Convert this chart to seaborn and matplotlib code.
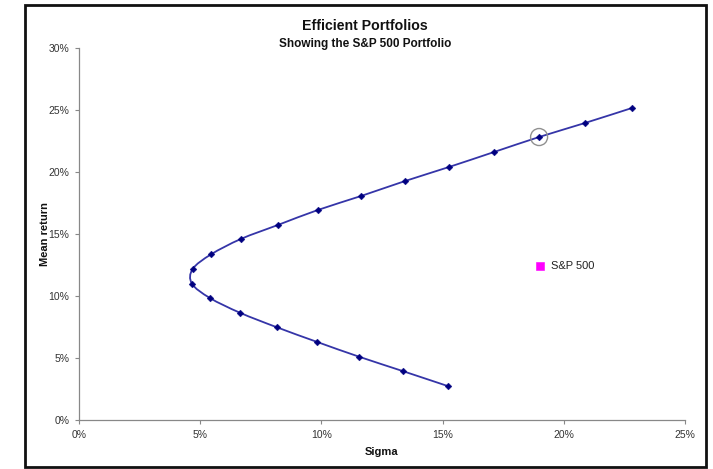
import matplotlib
matplotlib.use("Agg")
import matplotlib.pyplot as plt
from matplotlib.patches import Rectangle, PathPatch
from matplotlib.path import Path
from matplotlib.ticker import PercentFormatter
import seaborn as sns
import pandas as pd

# Efficient frontier: portfolio sigma and mean return (%), lower branch then upper branch
sigma = [15.21, 13.38, 11.56, 9.83, 8.16, 6.64, 5.40, 4.66,
         4.69, 5.45, 6.68, 8.21, 9.86, 11.63, 13.45, 15.26, 17.12, 18.98, 20.87, 22.81]
mean_return = [2.74, 3.93, 5.10, 6.29, 7.48, 8.65, 9.84, 10.99,
               12.18, 13.36, 14.60, 15.73, 16.94, 18.06, 19.27, 20.40, 21.61, 22.82, 23.95, 25.16]

# Market portfolio
sp500_sigma = [19.02]
sp500_return = [12.42]
sp500_label = "S&P 500"

# Frontier portfolio marked with a ring
highlight_index = 17

x_ticks = [0, 5, 10, 15, 20, 25]
y_ticks = [0, 5, 10, 15, 20, 25, 30]

sns.set_theme(style="white")
plt.rcParams["font.family"] = ["Liberation Sans", "DejaVu Sans"]

frontier = pd.DataFrame({"sigma": sigma, "ret": mean_return})

fig = plt.figure(figsize=(7.13, 4.69), dpi=100)
fig.patch.set_facecolor("white")
ax = fig.add_axes([79 / 713, 1 - 420 / 469, 606 / 713, 372 / 469])
ax.set_facecolor("white")


def smooth_path(xs, ys, tension=1 / 6):
    """Cubic Bezier path through the points (Catmull-Rom style smoothing)."""
    pts = list(zip(xs, ys))
    n = len(pts)
    verts = [pts[0]]
    codes = [Path.MOVETO]
    for i in range(n - 1):
        p0 = pts[i - 1] if i > 0 else pts[i]
        p1 = pts[i]
        p2 = pts[i + 1]
        p3 = pts[i + 2] if i + 2 < n else pts[i + 1]
        c1 = (p1[0] + (p2[0] - p0[0]) * tension, p1[1] + (p2[1] - p0[1]) * tension)
        c2 = (p2[0] - (p3[0] - p1[0]) * tension, p2[1] - (p3[1] - p1[1]) * tension)
        verts += [c1, c2, p2]
        codes += [Path.CURVE4, Path.CURVE4, Path.CURVE4]
    return Path(verts, codes)


ax.add_patch(PathPatch(smooth_path(sigma, mean_return), facecolor="none",
                       edgecolor="#3535a8", linewidth=1.3, zorder=2))
sns.scatterplot(data=frontier, x="sigma", y="ret", ax=ax, marker="D",
                s=12, color="#000080", edgecolor="#000080", zorder=3)

ax.scatter([sigma[highlight_index]], [mean_return[highlight_index]], s=150,
           facecolors="none", edgecolors="#909090", linewidths=1.0, zorder=4)

sns.scatterplot(x=sp500_sigma, y=sp500_return, ax=ax, marker="s", s=26,
                color="#ff00ff", edgecolor="#ff00ff", zorder=3)
ax.text(sp500_sigma[0] + 0.45, sp500_return[0], sp500_label, fontsize=8,
        color="#222222", va="center", ha="left")

ax.set_xlim(0, 25)
ax.set_ylim(0, 30)
ax.set_xticks(x_ticks)
ax.set_yticks(y_ticks)
ax.xaxis.set_major_formatter(PercentFormatter(decimals=0))
ax.yaxis.set_major_formatter(PercentFormatter(decimals=0))
ax.tick_params(axis="both", which="major", labelsize=7.5, labelcolor="#333333",
               direction="out", length=3, width=0.8, color="#888888",
               bottom=True, left=True, pad=4)

for side in ("top", "right"):
    ax.spines[side].set_visible(False)
for side in ("left", "bottom"):
    ax.spines[side].set_color("#888888")
    ax.spines[side].set_linewidth(0.9)

ax.set_xlabel("Sigma", fontsize=8, fontweight="bold", color="#111111", labelpad=5)
ax.set_ylabel("Mean return", fontsize=8, fontweight="bold", color="#111111", labelpad=-1)

fig.text(365 / 713, 1 - 26 / 469, "Efficient Portfolios", ha="center", va="center",
         fontsize=10.2, fontweight="bold", color="#111111")
fig.text(365 / 713, 1 - 44 / 469, "Showing the S&P 500 Portfolio", ha="center",
         va="center", fontsize=8.5, fontweight="bold", color="#111111")

# Chart frame
fig.patches.append(Rectangle((25 / 713, 1 - 467 / 469), 681 / 713, 462 / 469,
                             transform=fig.transFigure, fill=False,
                             edgecolor="#111111", linewidth=2.0, zorder=10))

fig.savefig("out.png", dpi=100)
